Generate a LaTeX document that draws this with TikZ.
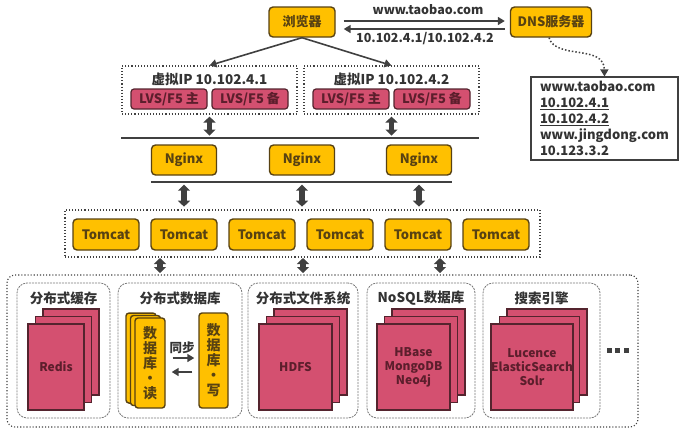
\documentclass[tikz,border=0pt]{standalone}
\usepackage{fontspec}
\setmainfont{Noto Sans CJK SC}
\usetikzlibrary{positioning, arrows.meta}

\definecolor{gold}{RGB}{255,192,0}
\definecolor{goldedge}{RGB}{88,66,18}
\definecolor{rose}{RGB}{212,80,112}
\definecolor{roseedge}{RGB}{84,36,46}
\definecolor{rosetext}{RGB}{92,30,44}
\definecolor{ink}{RGB}{64,64,64}

\tikzset{
  ybox/.style={draw=goldedge, fill=gold, line width=1.4pt, rounded corners=4pt, inner sep=0pt, text=goldedge, font=\bfseries\fontsize{13}{15}\selectfont},
  rbox/.style={draw=roseedge, fill=rose, line width=1.2pt, rounded corners=3pt, inner sep=0pt, text=rosetext, font=\bfseries\fontsize{13}{15}\selectfont},
  sheet/.style={draw=roseedge, fill=rose, line width=1.4pt, inner sep=0pt, text=rosetext, align=center, font=\bfseries\fontsize{12}{14}\selectfont},
  dbsheet/.style={draw=goldedge, fill=gold, line width=1.4pt, rounded corners=3pt, inner sep=0pt, text=goldedge, align=center, font=\bfseries\fontsize{14}{15}\selectfont},
  group/.style={draw=ink, dotted, line width=1.1pt, inner sep=0pt},
  panel/.style={draw=ink!70, dash pattern=on 2pt off 1pt, line width=0.8pt, rounded corners=10pt, inner sep=0pt},
  title/.style={text=black!80, font=\bfseries\fontsize{13.5}{15}\selectfont},
  lbl/.style={text=black!80, font=\bfseries\fontsize{12.5}{15}\selectfont},
  listbox/.style={draw=ink, line width=1.6pt, fill=white, inner xsep=9pt, inner ysep=4pt, text width=129, align=left, text=black!80, font=\bfseries\fontsize{13}{16}\selectfont},
  arr/.style={draw=ink, line width=1.6pt, -{Triangle[length=7pt,width=8pt]}},
  dotarr/.style={draw=ink, line width=1.5pt, dotted, -{Triangle[length=7pt,width=8pt]}},
  dbl/.style={draw=ink, line width=5.5pt, {Triangle[length=6pt,width=12pt]}-{Triangle[length=6pt,width=12pt]}},
  bus/.style={draw=ink, line width=1.8pt},
}

\begin{document}
\begin{tikzpicture}[x=1pt, y=-1pt]
\useasboundingbox (0,0) rectangle (688,429);

% browser and DNS
\node[ybox, minimum width=66, minimum height=30] (browser) at (302,22) {浏览器};
\node[ybox, minimum width=81, minimum height=30] (dns) at (551,22) {DNS服务器};
\draw[arr] ([xshift=8pt,yshift=1pt]browser.east) -- ([xshift=-5pt,yshift=1pt]dns.west);
\draw[arr] ([xshift=-5pt,yshift=-7pt]dns.west) -- ([xshift=8pt,yshift=-7pt]browser.east);
\node[lbl] (query) at (428,10) {www.taobao.com};
\node[lbl] (reply) at (425,39) {10.102.4.1/10.102.4.2};

% DNS records
\node[listbox] (records) at (604.5,118.5) {www.taobao.com\\\underline{10.102.4.1}\\\underline{10.102.4.2}\\www.jingdong.com\\10.123.3.2};
\draw[dotarr] ([xshift=-2pt]dns.south) .. controls (556,60) and (604,44) .. (records.north);

% virtual IP groups
\node[group, minimum width=175, minimum height=48] (vip1) at (209.5,90) {};
\node[group, minimum width=175, minimum height=48] (vip2) at (391.5,90) {};
\node[title] (vip1name) at (209.5,79) {虚拟IP 10.102.4.1};
\node[title] (vip2name) at (391.5,79) {虚拟IP 10.102.4.2};
\node[rbox, minimum width=76, minimum height=20] (lvs1m) at (169,99) {LVS/F5 主};
\node[rbox, minimum width=76, minimum height=20] (lvs1b) at (250,99) {LVS/F5 备};
\node[rbox, minimum width=76, minimum height=20] (lvs2m) at (351,99) {LVS/F5 主};
\node[rbox, minimum width=76, minimum height=20] (lvs2b) at (432,99) {LVS/F5 备};
\draw[arr] (browser.south) -- (vip1.north);
\draw[arr] (browser.south) -- (vip2.north);

% nginx layer
\coordinate (busAL) at (121,138);
\coordinate (busAR) at (479,138);
\draw[bus] (busAL) -- (busAR);
\foreach \v in {vip1,vip2}
  \draw[dbl] ([yshift=-2pt]\v.south) -- ([yshift=-21pt]\v.south);
\foreach \i/\x in {1/184,2/302,3/419}
  \node[ybox, minimum width=65, minimum height=30] (ngx\i) at (\x,160) {Nginx};
\draw[bus] ([yshift=-6pt]ngx1.south west) -- ([yshift=-6pt]ngx3.south east);
\foreach \i in {1,2,3}
  \draw[dbl] ([yshift=-9pt]ngx\i.south) -- ([yshift=-31pt]ngx\i.south);

% tomcat layer
\node[group, minimum width=475, minimum height=47] (web) at (302.5,233.5) {};
\foreach \i/\x in {1/106,2/184,3/262,4/340,5/418,6/496}
  \node[ybox, minimum width=66, minimum height=31] (tc\i) at (\x,234.5) {Tomcat};
\foreach \x [count=\k] in {160,303,440} {
  \coordinate (up\k) at (\x,258);
  \coordinate (dn\k) at (\x,273);
  \draw[dbl] (up\k) -- (dn\k);
}

% storage layer
\node[group, rounded corners=8pt, minimum width=631, minimum height=152] (store) at (322.5,351) {};
\foreach \n/\x/\w/\t in {cache/63.5/93/分布式缓存, rdb/180/124/分布式数据库, dfs/303/110/分布式文件系统, nosql/421/108/NoSQL数据库, search/541.5/117/搜索引擎} {
  \node[panel, minimum width=\w, minimum height=135] (\n) at (\x,350.5) {};
  \node[title] (\n-title) at (\x,298) {\t};
}
\foreach \n/\x/\w/\t in {redis/56/56/Redis, hdfs/295.5/73/HDFS, hbase/413.5/73/{HBase\\MongoDB\\Neo4j}, lucene/532/80/{Lucence\\ElasticSearch\\Solr}} {
  \foreach \d [count=\k] in {15,7.5}
    \node[sheet, minimum width=\w, minimum height=86] (\n-b\k) at (\x+\d,367-\d) {};
  \node[sheet, minimum width=\w, minimum height=86] (\n) at (\x,367) {\t};
}

% read / write databases
\foreach \d [count=\k] in {9,4.5}
  \node[dbsheet, minimum width=30, minimum height=90] (dbread-b\k) at (150-\d,363-\d*0.55) {};
\node[dbsheet, minimum width=30, minimum height=90] (dbread) at (150,363) {数\\据\\库\\·\\读};
\node[dbsheet, minimum width=29, minimum height=95] (dbwrite) at (213.5,360.5) {数\\据\\库\\·\\写};
\node[lbl] (sync) at (182,348) {同步};
\draw[arr] ([xshift=7pt,yshift=5pt]dbread.east) -- ([xshift=-4pt,yshift=2.5pt]dbwrite.west);
\draw[arr] ([xshift=-6pt,yshift=-11.5pt]dbwrite.west) -- ([xshift=6pt,yshift=-9pt]dbread.east);

% more
\foreach \x in {609,617.5,626}
  \fill[ink] (\x-2.5,347.5) rectangle ++(5,5);
\end{tikzpicture}
\end{document}
